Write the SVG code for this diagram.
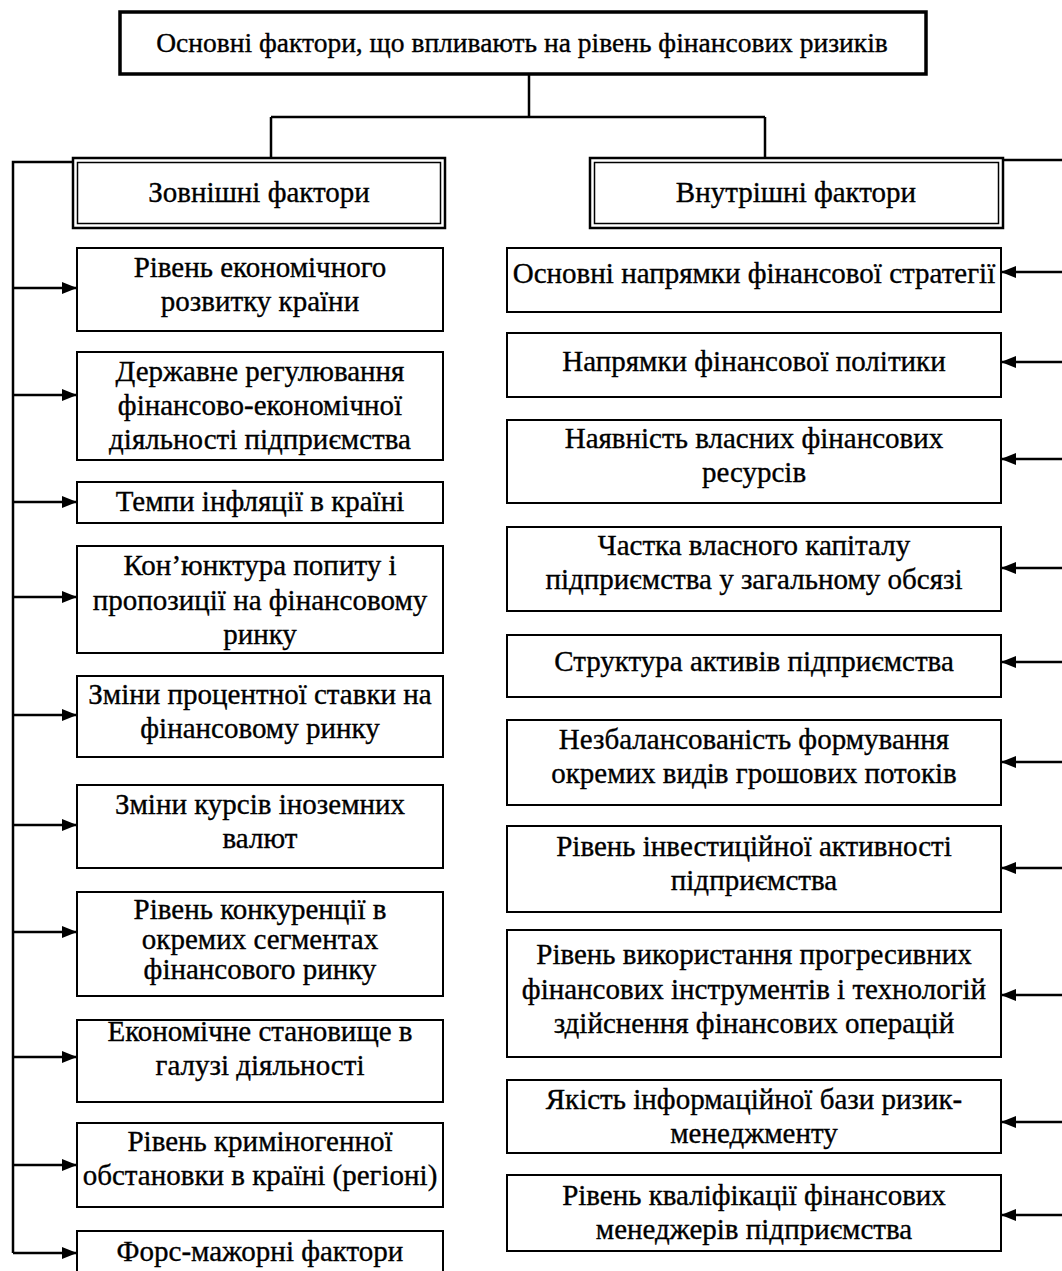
<svg xmlns="http://www.w3.org/2000/svg" width="1062" height="1271" viewBox="0 0 1062 1271">
  <style>
    .box { fill: #fff; stroke: #000; stroke-width: 2; }
    .top { fill: #fff; stroke: #000; stroke-width: 3.5; }
    .dbl-out { fill: #fff; stroke: #000; stroke-width: 2.5; }
    .dbl-in { fill: none; stroke: #000; stroke-width: 1.5; }
    .t { font-family: "Liberation Serif", "Times New Roman", serif; font-size: 29px; fill: #000; stroke: #000; stroke-width: 0.35; text-anchor: middle; }
    .title { font-size: 27.5px; }
    .wire { fill: none; stroke: #000; stroke-width: 2.5; }
  </style>
  <defs>
    <marker id="arrow" viewBox="0 0 15 12" refX="15" refY="6" markerWidth="15" markerHeight="12" markerUnits="userSpaceOnUse" orient="auto">
      <path d="M0,0 L15,6 L0,12 Z" fill="#000"/>
    </marker>
  </defs>
  <rect width="1062" height="1271" fill="#fff"/>

  <!-- connectors -->
  <g id="connectors">
    <path class="wire" d="M529,74 V117 M271,117 H765 M271,117 V158 M765,117 V158"/>
    <!-- external factors bus -->
    <path class="wire" d="M73,162 H13 V1253"/>
    <path class="wire" marker-end="url(#arrow)" d="M13,288 H77"/>
    <path class="wire" marker-end="url(#arrow)" d="M13,395 H77"/>
    <path class="wire" marker-end="url(#arrow)" d="M13,502 H77"/>
    <path class="wire" marker-end="url(#arrow)" d="M13,597 H77"/>
    <path class="wire" marker-end="url(#arrow)" d="M13,715 H77"/>
    <path class="wire" marker-end="url(#arrow)" d="M13,825 H77"/>
    <path class="wire" marker-end="url(#arrow)" d="M13,932 H77"/>
    <path class="wire" marker-end="url(#arrow)" d="M13,1057 H77"/>
    <path class="wire" marker-end="url(#arrow)" d="M13,1165 H77"/>
    <path class="wire" marker-end="url(#arrow)" d="M13,1253 H77"/>
    <!-- internal factors bus -->
    <path class="wire" d="M1003,160 H1062"/>
    <path class="wire" marker-end="url(#arrow)" d="M1062,272 H1001"/>
    <path class="wire" marker-end="url(#arrow)" d="M1062,362 H1001"/>
    <path class="wire" marker-end="url(#arrow)" d="M1062,459 H1001"/>
    <path class="wire" marker-end="url(#arrow)" d="M1062,568 H1001"/>
    <path class="wire" marker-end="url(#arrow)" d="M1062,662 H1001"/>
    <path class="wire" marker-end="url(#arrow)" d="M1062,762 H1001"/>
    <path class="wire" marker-end="url(#arrow)" d="M1062,868 H1001"/>
    <path class="wire" marker-end="url(#arrow)" d="M1062,995 H1001"/>
    <path class="wire" marker-end="url(#arrow)" d="M1062,1122 H1001"/>
    <path class="wire" marker-end="url(#arrow)" d="M1062,1215 H1001"/>
  </g>

  <!-- root -->
  <g id="root">
    <rect class="top" x="120" y="12" width="806" height="62"/>
    <text class="t title" x="522" y="52">Основні фактори, що впливають на рівень фінансових ризиків</text>
  </g>

  <!-- group headers -->
  <g id="external">
    <rect class="dbl-out" x="73" y="158" width="372" height="70"/>
    <rect class="dbl-in" x="77.5" y="162.5" width="363" height="61"/>
    <text class="t" x="259" y="202">Зовнішні фактори</text>
  </g>
  <g id="internal">
    <rect class="dbl-out" x="590" y="158" width="413" height="70"/>
    <rect class="dbl-in" x="594.5" y="162.5" width="404" height="61"/>
    <text class="t" x="796" y="202">Внутрішні фактори</text>
  </g>

  <!-- external factors -->
  <g id="ext1">
    <rect class="box" x="77" y="248" width="366" height="83"/>
    <text class="t" x="260" y="277">Рівень економічного</text>
    <text class="t" x="260" y="311">розвитку країни</text>
  </g>
  <g id="ext2">
    <rect class="box" x="77" y="352" width="366" height="108"/>
    <text class="t" x="260" y="381">Державне регулювання</text>
    <text class="t" x="260" y="415">фінансово-економічної</text>
    <text class="t" x="260" y="449">діяльності підприємства</text>
  </g>
  <g id="ext3">
    <rect class="box" x="77" y="482" width="366" height="41"/>
    <text class="t" x="260" y="511">Темпи інфляції в країні</text>
  </g>
  <g id="ext4">
    <rect class="box" x="77" y="546" width="366" height="107"/>
    <text class="t" x="260" y="575">Кон’юнктура попиту і</text>
    <text class="t" x="260" y="610">пропозиції на фінансовому</text>
    <text class="t" x="260" y="644">ринку</text>
  </g>
  <g id="ext5">
    <rect class="box" x="77" y="676" width="366" height="81"/>
    <text class="t" x="260" y="704">Зміни процентної ставки на</text>
    <text class="t" x="260" y="738">фінансовому ринку</text>
  </g>
  <g id="ext6">
    <rect class="box" x="77" y="785" width="366" height="83"/>
    <text class="t" x="260" y="814">Зміни курсів іноземних</text>
    <text class="t" x="260" y="848">валют</text>
  </g>
  <g id="ext7">
    <rect class="box" x="77" y="892" width="366" height="104"/>
    <text class="t" x="260" y="919">Рівень конкуренції в</text>
    <text class="t" x="260" y="949">окремих сегментах</text>
    <text class="t" x="260" y="979">фінансового ринку</text>
  </g>
  <g id="ext8">
    <rect class="box" x="77" y="1020" width="366" height="82"/>
    <text class="t" x="260" y="1041">Економічне становище в</text>
    <text class="t" x="260" y="1075">галузі діяльності</text>
  </g>
  <g id="ext9">
    <rect class="box" x="77" y="1123" width="366" height="84"/>
    <text class="t" x="260" y="1151">Рівень криміногенної</text>
    <text class="t" x="260" y="1185">обстановки в країні (регіоні)</text>
  </g>
  <g id="ext10">
    <rect class="box" x="77" y="1231" width="366" height="60"/>
    <text class="t" x="260" y="1261">Форс-мажорні фактори</text>
  </g>

  <!-- internal factors -->
  <g id="int1">
    <rect class="box" x="507" y="248" width="494" height="64"/>
    <text class="t" x="754" y="283">Основні напрямки фінансової стратегії</text>
  </g>
  <g id="int2">
    <rect class="box" x="507" y="333" width="494" height="64"/>
    <text class="t" x="754" y="371">Напрямки фінансової політики</text>
  </g>
  <g id="int3">
    <rect class="box" x="507" y="420" width="494" height="83"/>
    <text class="t" x="754" y="448">Наявність власних фінансових</text>
    <text class="t" x="754" y="482">ресурсів</text>
  </g>
  <g id="int4">
    <rect class="box" x="507" y="527" width="494" height="84"/>
    <text class="t" x="754" y="555">Частка власного капіталу</text>
    <text class="t" x="754" y="589">підприємства у загальному обсязі</text>
  </g>
  <g id="int5">
    <rect class="box" x="507" y="635" width="494" height="62"/>
    <text class="t" x="754" y="671">Структура активів підприємства</text>
  </g>
  <g id="int6">
    <rect class="box" x="507" y="720" width="494" height="85"/>
    <text class="t" x="754" y="749">Незбалансованість формування</text>
    <text class="t" x="754" y="783">окремих видів грошових потоків</text>
  </g>
  <g id="int7">
    <rect class="box" x="507" y="826" width="494" height="86"/>
    <text class="t" x="754" y="856">Рівень інвестиційної активності</text>
    <text class="t" x="754" y="890">підприємства</text>
  </g>
  <g id="int8">
    <rect class="box" x="507" y="930" width="494" height="127"/>
    <text class="t" x="754" y="964">Рівень використання прогресивних</text>
    <text class="t" x="754" y="999">фінансових інструментів і технологій</text>
    <text class="t" x="754" y="1033">здійснення фінансових операцій</text>
  </g>
  <g id="int9">
    <rect class="box" x="507" y="1080" width="494" height="73"/>
    <text class="t" x="754" y="1109">Якість інформаційної бази ризик-</text>
    <text class="t" x="754" y="1143">менеджменту</text>
  </g>
  <g id="int10">
    <rect class="box" x="507" y="1175" width="494" height="76"/>
    <text class="t" x="754" y="1205">Рівень кваліфікації фінансових</text>
    <text class="t" x="754" y="1239">менеджерів підприємства</text>
  </g>
</svg>
